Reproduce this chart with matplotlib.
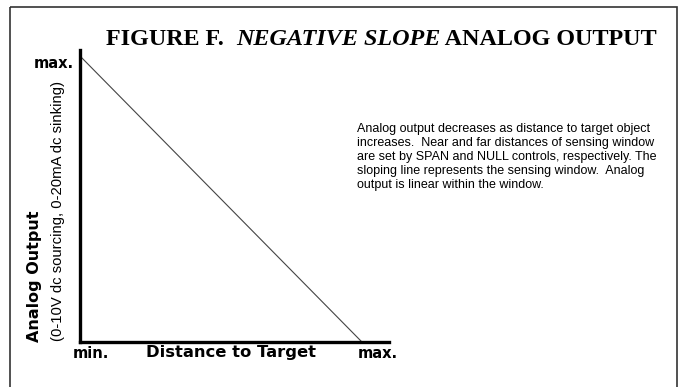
import matplotlib
matplotlib.use("Agg")
import matplotlib.pyplot as plt
from matplotlib.patches import Rectangle

# chart values
distance = [0.0, 1.0]
output = [1.0, 0.0]
x_tick_labels = ["min.", "max."]
y_tick_labels = ["min.", "max."]

title_parts = [("FIGURE F.  ", "normal"), ("NEGATIVE SLOPE", "italic"), (" ANALOG OUTPUT", "normal")]
note_lines = [
    "Analog output decreases as distance to target object",
    "increases.  Near and far distances of sensing window",
    "are set by SPAN and NULL controls, respectively. The",
    "sloping line represents the sensing window.  Analog",
    "output is linear within the window.",
]
x_label = "Distance to Target"
y_label = "Analog Output"
y_sublabel = "(0-10V dc sourcing, 0-20mA dc sinking)"

W, H = 691, 387
fig = plt.figure(figsize=(W / 100, H / 100), dpi=100)

# overlay in pixel coords for frame and free text
bg = fig.add_axes([0, 0, 1, 1])
bg.set_xlim(0, W)
bg.set_ylim(H, 0)
bg.axis("off")
bg.add_patch(Rectangle((10, 7), 667, 400, fill=False, edgecolor="#333333", linewidth=1.2))

# plot area
ax = fig.add_axes([80 / W, (H - 342) / H, 309 / W, 292 / H])
ax.patch.set_visible(False)
ax.plot(distance, output, color="#444444", linewidth=0.8)
ax.set_xlim(0, 1.096)
ax.set_ylim(0, 1.021)
for s in ["top", "right"]:
    ax.spines[s].set_visible(False)
for s in ["left", "bottom"]:
    ax.spines[s].set_linewidth(2.4)
    ax.spines[s].set_color("black")
ax.set_xticks([])
ax.set_yticks([])

lab_font = dict(family="DejaVu Sans", weight="bold", fontsize=10.5)
bg.text(74, 64, y_tick_labels[1], ha="right", va="center", **lab_font)
bg.text(73, 354, x_tick_labels[0], ha="left", va="center", **lab_font)
bg.text(358, 354, x_tick_labels[1], ha="left", va="center", **lab_font)
bg.text(231, 353, x_label, ha="center", va="center", family="DejaVu Sans",
        weight="bold", fontsize=11.8)
bg.text(35, 276, y_label, ha="center", va="center", rotation=90, family="DejaVu Sans",
        weight="bold", fontsize=11.5)
bg.text(58, 211, y_sublabel, ha="center", va="center", rotation=90, family="Liberation Sans",
        fontsize=10.7)

# title pieces laid out one after another
renderer = fig.canvas.get_renderer()
x = 106
for txt, style in title_parts:
    t = bg.text(x, 45, txt, ha="left", va="baseline", family="Liberation Serif",
                weight="bold", style=style, fontsize=17.4)
    bb = t.get_window_extent(renderer)
    x += bb.width

for i, line in enumerate(note_lines):
    bg.text(357, 129 + 14 * i, line, ha="left", va="center", family="Liberation Sans",
            fontsize=9)

fig.savefig("out.png", dpi=100)
